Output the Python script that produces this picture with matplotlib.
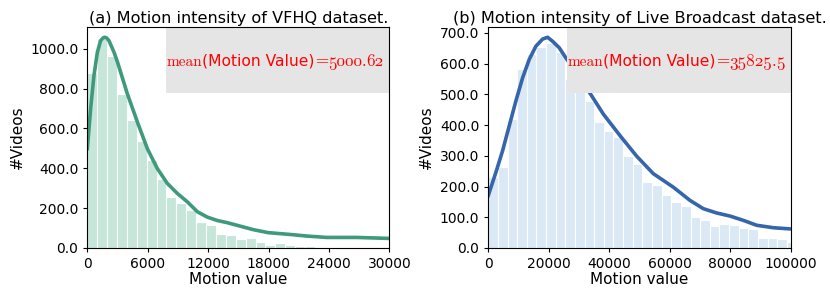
"""Motion intensity histograms for the VFHQ and Live Broadcast datasets."""

from pathlib import Path

import matplotlib

matplotlib.use("Agg")
import matplotlib.pyplot as plt
import numpy as np
from matplotlib.font_manager import FontProperties
from matplotlib.offsetbox import AnchoredOffsetbox, HPacker, TextArea
from matplotlib.patches import Rectangle

# (a) VFHQ: bin counts (bins of ~983) and the density curve
vfhq_bin_width = 983
vfhq_counts = [878, 1050, 966, 771, 641, 536, 441, 345, 254, 225, 189, 132, 115, 68, 66,
               43, 48, 30, 13, 25, 15, 12, 10, 4, 1, 4, 1, 4, 1, 1]
vfhq_curve_x = [0, 330, 660, 1000, 1320, 1550, 1720, 1900, 2150, 2650, 3000, 3970, 4970, 5960,
                6950, 7950, 8940, 9930, 10930, 11920, 12910, 13910, 15160, 16490, 17980,
                20130, 21790, 23780, 26750, 30000]
vfhq_curve_y = [499, 700, 866, 983, 1041, 1054, 1058, 1055, 1041, 983, 933, 775, 633, 499, 399,
                324, 274, 232, 182, 155, 138, 127, 110, 92, 77, 68, 60, 53, 53, 48]
vfhq_mean = ("5000", "62")
vfhq_xticks = [0, 6000, 12000, 18000, 24000, 30000]
vfhq_yticks = [0, 200, 400, 600, 800, 1000]

# (b) Live Broadcast
live_bin_width = 3185
live_counts = [230, 263, 420, 584, 630, 655, 666, 637, 549, 515, 479, 409, 382, 362, 298, 274,
               215, 204, 174, 150, 137, 102, 91, 72, 77, 75, 65, 61, 32, 32, 30, 19]
live_curve_x = [0, 2540, 4740, 6940, 9140, 11350, 13550, 15750, 17950, 19600, 21250, 23450,
                25650, 29500, 33630, 38040, 43550, 49060, 54570, 61190, 66700, 71110, 75520,
                79930, 84340, 88750, 94260, 100000]
live_curve_y = [171, 247, 317, 398, 479, 554, 614, 657, 680, 686, 673, 652, 619, 565, 504, 436,
                366, 299, 242, 198, 155, 128, 114, 104, 90, 74, 66, 62]
live_mean = ("35825", "5")
live_xticks = [0, 20000, 40000, 60000, 80000, 100000]
live_yticks = [0, 100, 200, 300, 400, 500, 600, 700]

FONT_DIR = Path(matplotlib.get_data_path()) / "fonts" / "ttf"


def mean_label(mean):
    # Computer Modern pieces: roman for "mean", ".", "=", old-style (cmmi) digits
    word = FontProperties(fname=str(FONT_DIR / "cmr10.ttf"), size=11.0)
    roman = FontProperties(fname=str(FONT_DIR / "cmr10.ttf"), size=12.3)
    oldstyle = FontProperties(fname=str(FONT_DIR / "cmmi10.ttf"), size=12.3)
    sans = FontProperties(family="DejaVu Sans", size=11.2)
    whole, frac = mean
    pieces = [("mean", word), ("(Motion Value)", sans), ("=", roman),
              (whole, oldstyle), (".", roman), (frac, oldstyle)]
    areas = [TextArea(text, textprops=dict(color="red", fontproperties=prop))
             for text, prop in pieces]
    return HPacker(children=areas, align="baseline", pad=0, sep=0)


def draw_panel(axis, counts, bin_width, curve_x, curve_y, mean, xticks, yticks,
               bar_color, line_color, title):
    edges = np.arange(len(counts)) * bin_width
    axis.bar(edges, counts, width=bin_width, align="edge", color=bar_color,
             edgecolor="white", linewidth=0.8, zorder=1)
    axis.plot(curve_x, curve_y, color=line_color, linewidth=2.6, zorder=2,
              solid_joinstyle="round")
    axis.set_xlim(xticks[0], xticks[-1])
    axis.set_ylim(0, max(curve_y) * 1.05)
    axis.set_xticks(xticks)
    axis.set_yticks(yticks)
    axis.set_yticklabels([f"{v:.1f}" for v in yticks])
    axis.tick_params(labelsize=10, length=3, width=0.8)
    axis.set_xlabel("Motion value", fontsize=11, labelpad=1)
    axis.set_ylabel("#Videos", fontsize=11)
    axis.set_title(title, fontsize=11.6, pad=3)
    axis.add_patch(Rectangle((0.26, 0.70), 0.74, 0.30, transform=axis.transAxes,
                             facecolor="#e5e5e5", edgecolor="none", zorder=3))
    anchored = AnchoredOffsetbox(loc="center left", child=mean_label(mean), pad=0,
                                 borderpad=0, frameon=False, bbox_to_anchor=(0.262, 0.845),
                                 bbox_transform=axis.transAxes)
    anchored.set_zorder(4)
    axis.add_artist(anchored)
    for spine in axis.spines.values():
        spine.set_linewidth(0.8)
        spine.set_zorder(5)


def main() -> None:
    figure = plt.figure(figsize=(8.3, 2.97), dpi=100)
    left = figure.add_axes([0.1052, 0.165, 0.3639, 0.745])
    right = figure.add_axes([0.5883, 0.165, 0.3643, 0.745])
    draw_panel(left, vfhq_counts, vfhq_bin_width, vfhq_curve_x, vfhq_curve_y, vfhq_mean,
               vfhq_xticks, vfhq_yticks, "#c6e6da", "#3f9a7b",
               "(a) Motion intensity of VFHQ dataset.")
    draw_panel(right, live_counts, live_bin_width, live_curve_x, live_curve_y, live_mean,
               live_xticks, live_yticks, "#dbe9f6", "#3565ab",
               "(b) Motion intensity of Live Broadcast dataset.")
    figure.savefig("out.png", dpi=100)


if __name__ == "__main__":
    main()
